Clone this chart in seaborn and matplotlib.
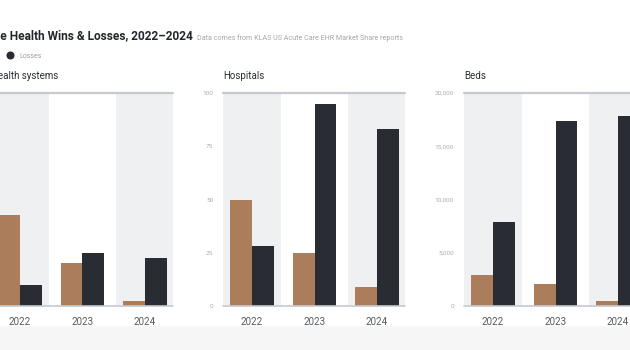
import pandas as pd
import matplotlib.pyplot as plt
import seaborn as sns
from matplotlib.lines import Line2D
from matplotlib.patches import Rectangle
from matplotlib.ticker import FuncFormatter

# Oracle Health wins & losses, 2022-2024
years = ["2022", "2023", "2024"]
systems_wins = [17, 8, 1]
systems_losses = [4, 10, 9]
hospitals_wins = [50, 25, 9]
hospitals_losses = [28, 95, 83]
beds_wins = [2950, 2100, 450]
beds_losses = [7900, 17400, 17800]

panels = [
    ("Health systems", systems_wins, systems_losses, 40, [0, 10, 20, 30, 40]),
    ("Hospitals", hospitals_wins, hospitals_losses, 100, [0, 25, 50, 75, 100]),
    ("Beds", beds_wins, beds_losses, 20000, [0, 5000, 10000, 15000, 20000]),
]

WIN = "#b97b4c"
LOSS = "#272c33"
BAND = "#eef0f2"
LINE = "#c6cad0"

sns.set_theme(style="white")
plt.rcParams["font.family"] = ["Roboto", "DejaVu Sans"]

W, H = 630, 350
fig = plt.figure(figsize=(W / 100, H / 100), dpi=100)

# faint decorative strip at the bottom
fig.patches.append(Rectangle((0, 0), 1, 24 / H, transform=fig.transFigure,
                             color="#f6f6f7", zorder=-5))

lefts = [-9, 223, 464]
for i, ((title, wins, losses, ymax, ticks), left) in enumerate(zip(panels, lefts)):
    ax = fig.add_axes([left / W, 44 / H, 182 / W, 213 / H])
    df = pd.DataFrame({
        "Year": years * 2,
        "Value": wins + losses,
        "Result": ["Wins"] * 3 + ["Losses"] * 3,
    })
    ax.axvspan(-0.6, 0.46, color=BAND, lw=0, zorder=0)
    ax.axvspan(1.54, 2.6, color=BAND, lw=0, zorder=0)
    sns.barplot(data=df, x="Year", y="Value", hue="Result",
                hue_order=["Wins", "Losses"], palette=[WIN, LOSS],
                width=0.69, ax=ax, legend=False, zorder=2,
                edgecolor="none")
    ax.set_xlim(-0.464, 2.448)
    ax.set_ylim(0, ymax)
    ax.set_yticks(ticks)
    ax.yaxis.set_major_formatter(FuncFormatter(lambda v, p: f"{int(v):,}"))
    ax.axhline(ymax, color=LINE, lw=1.6, zorder=3, clip_on=False)
    ax.axhline(0, color=LINE, lw=1.2, zorder=3, clip_on=False)
    for s in ax.spines.values():
        s.set_visible(False)
    ax.set_xlabel("")
    ax.set_ylabel("")
    ax.tick_params(axis="x", length=0, pad=8, labelsize=7, labelcolor="#555a60")
    ax.tick_params(axis="y", length=0, pad=7, labelsize=4.6, labelcolor="#a9adb2")
    if i == 0:
        # this panel's value labels sit beyond the left edge of the crop
        ax.tick_params(axis="y", labelleft=False)
    ax.set_title(title, loc="left", fontsize=7, color="#2a2d31", pad=10)

fig.text(193 / W, 1 - 39.5 / H, "Oracle Health Wins & Losses, 2022\u20132024",
         ha="right", va="baseline", fontsize=8.6, weight="bold", color="#23262b")
fig.text(197 / W, 1 - 39.5 / H,
         "Data comes from KLAS US Acute Care EHR Market Share reports",
         ha="left", va="baseline", fontsize=5.1, color="#a3a7ac")

handles = [Line2D([], [], marker="o", ls="", color=WIN, markersize=4.8),
           Line2D([], [], marker="o", ls="", color=LOSS, markersize=4.8)]
fig.legend(handles, ["Wins", "Losses"], ncol=2, loc="center right",
           bbox_to_anchor=(42 / W, 1 - 56 / H), frameon=False, fontsize=5,
           labelcolor="#9a9ea3", handletextpad=0.4, columnspacing=1.5,
           borderpad=0, borderaxespad=0)

fig.savefig("out.png", dpi=100)
